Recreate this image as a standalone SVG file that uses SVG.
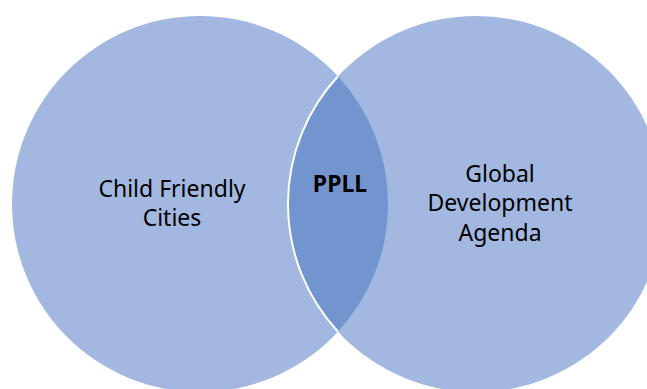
<svg xmlns="http://www.w3.org/2000/svg" width="647" height="389" viewBox="0 0 647 389">
<style>
.c{fill:#A2B8E0}
.t{font-family:"Noto Sans","Liberation Sans",Arial,sans-serif;font-size:23px;fill:#000;text-anchor:middle}
.b{font-weight:bold}
</style>
<rect width="647" height="389" fill="#fff"/>
<g id="left-circle">
<circle class="c" cx="200" cy="204" r="188"/>
<text class="t" x="172" y="197">Child Friendly</text>
<text class="t" x="172" y="226">Cities</text>
</g>
<g id="right-circle">
<circle class="c" cx="476" cy="204" r="188"/>
<text class="t" x="500" y="182">Global</text>
<text class="t" x="500" y="211">Development</text>
<text class="t" x="500" y="241">Agenda</text>
</g>
<g id="overlap">
<path d="M338 76.3 A188 188 0 0 0 338 331.7 A188 188 0 0 0 338 76.3 Z" fill="#7395CF"/>
<path d="M338 76.3 A188 188 0 0 0 338 331.7" fill="none" stroke="#fff" stroke-width="2"/>
<text class="t b" x="340" y="192">PPLL</text>
</g>
<g id="connectors"/>
</svg>
